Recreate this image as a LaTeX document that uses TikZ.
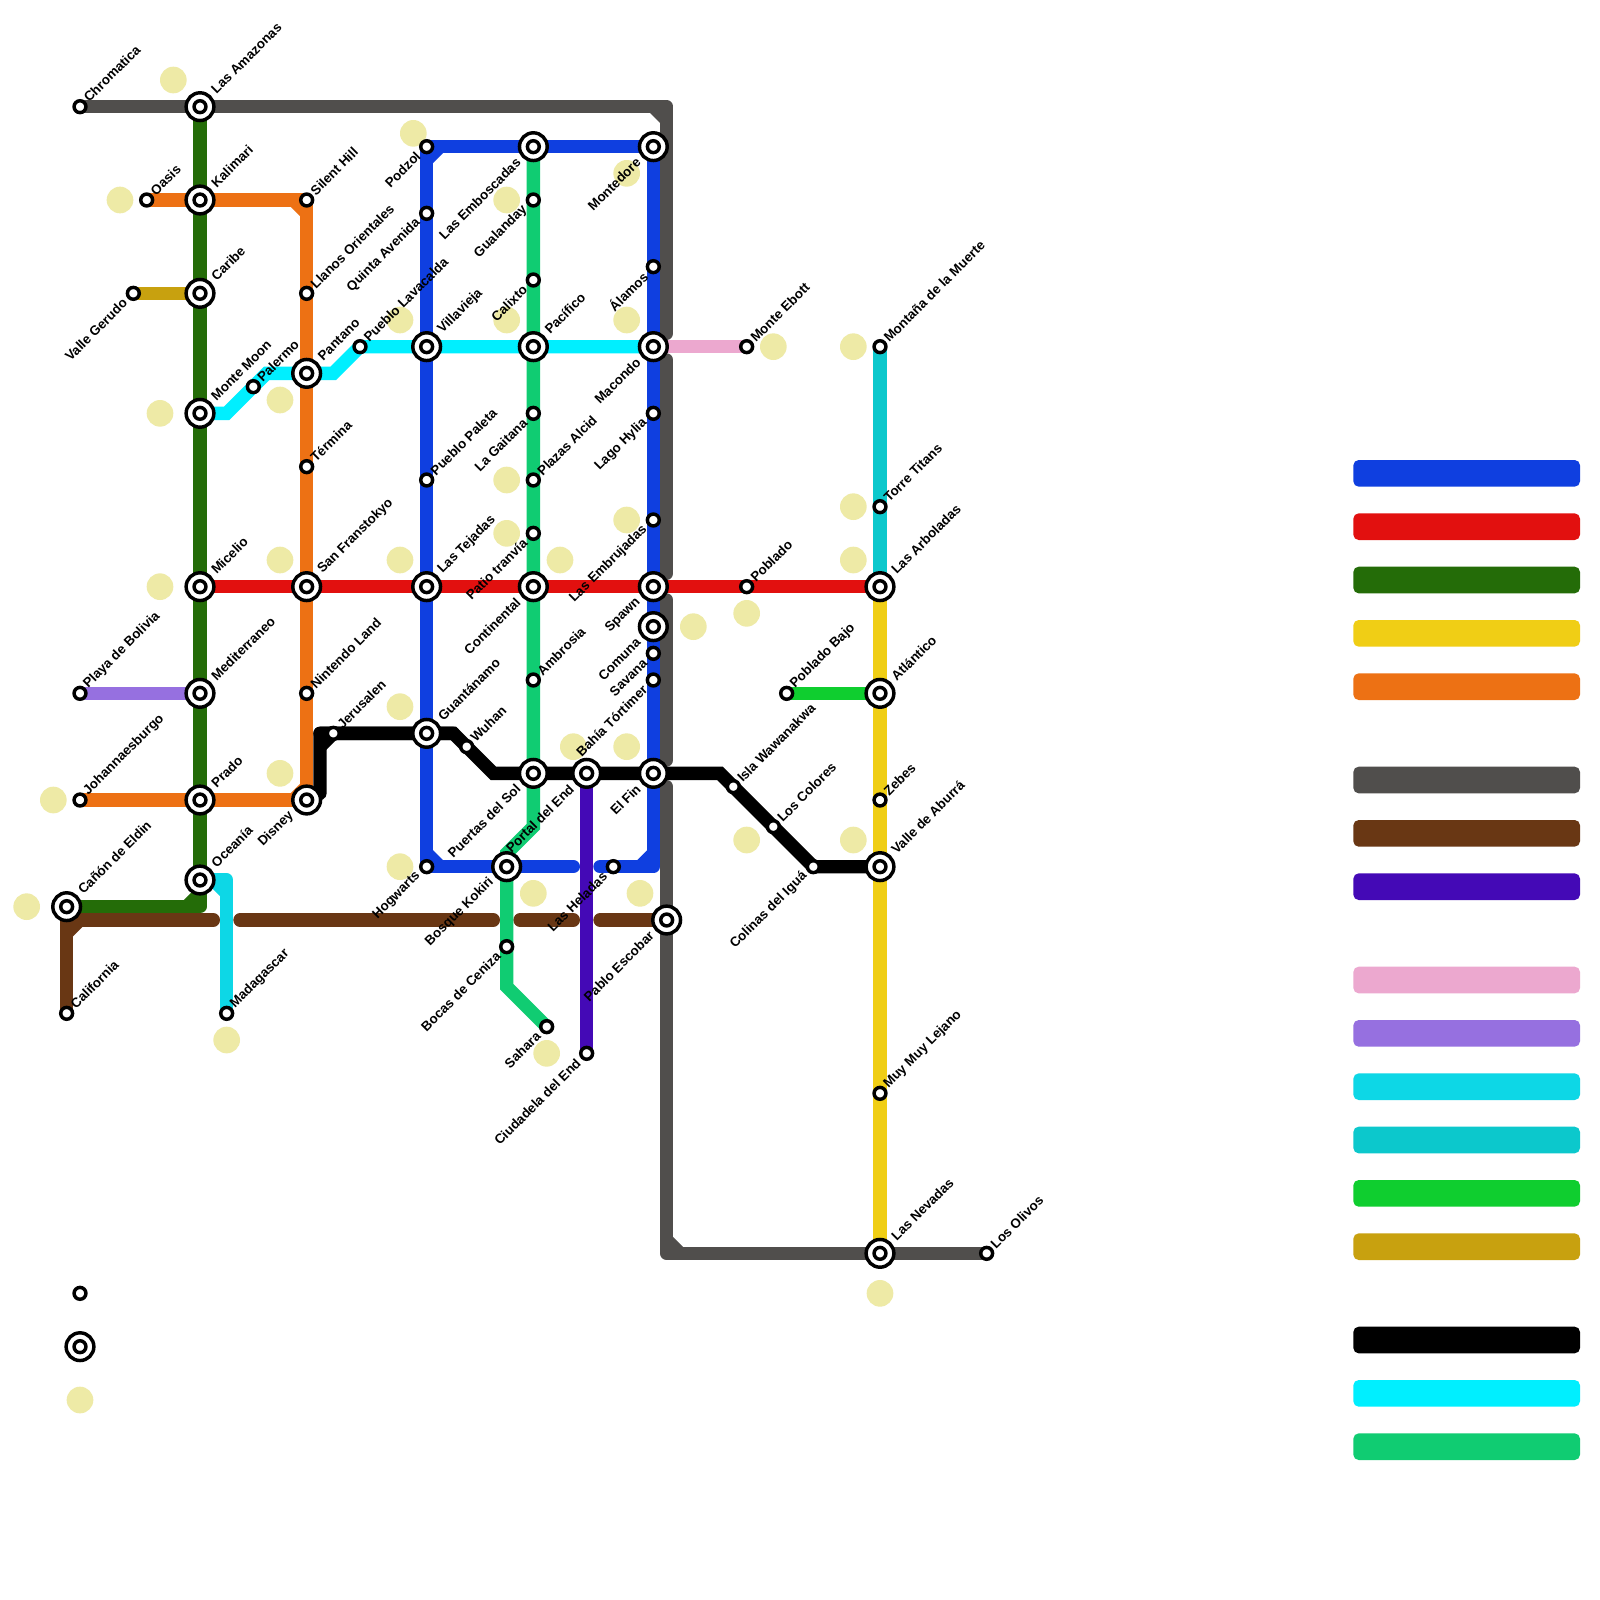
\documentclass[tikz,border=0pt]{standalone}
\usepackage{fontspec}
\setmainfont{Liberation Sans}
\usetikzlibrary{backgrounds}
\definecolor{cBlue}{HTML}{0F3FE0}
\definecolor{cRed}{HTML}{E2100F}
\definecolor{cDGreen}{HTML}{246C08}
\definecolor{cYellow}{HTML}{F0CE15}
\definecolor{cOrange}{HTML}{ED7114}
\definecolor{cGrey}{HTML}{504E4C}
\definecolor{cBrown}{HTML}{693714}
\definecolor{cIndigo}{HTML}{4409B6}
\definecolor{cPink}{HTML}{ECA8CF}
\definecolor{cPurple}{HTML}{9670E0}
\definecolor{cTurq}{HTML}{0DD7E6}
\definecolor{cTeal}{HTML}{0CC8CC}
\definecolor{cLime}{HTML}{0FCE2F}
\definecolor{cGold}{HTML}{C8A10F}
\definecolor{cCyan}{HTML}{00EFFF}
\definecolor{cEmer}{HTML}{10CC72}
\definecolor{cBeige}{HTML}{EEEAA6}
\tikzset{
  smsta/.style={circle,draw=black,fill=white,line width=2.6pt,minimum size=8.9pt,inner sep=0pt,outer sep=0pt},
  bigsta/.style={circle,draw=black,fill=white,line width=2.6pt,minimum size=20.8pt,inner sep=0pt,outer sep=0pt},
  lblne/.style={font=\fontsize{10pt}{10pt}\selectfont\bfseries,inner sep=0pt,rotate=45,anchor=west,text=black},
  lblsw/.style={font=\fontsize{10pt}{10pt}\selectfont\bfseries,inner sep=0pt,rotate=45,anchor=east,text=black},
  metro/.style={line width=10pt,line cap=round,line join=round},
  sharpmetro/.style={line width=10pt,line cap=round,line join=miter},
  cham/.style={line width=10pt,line cap=butt},
  spot/.style={circle,fill=cBeige,minimum size=20pt,inner sep=0pt,outer sep=0pt},
  legendbar/.style={rectangle,rounded corners=4pt,minimum width=170pt,minimum height=20pt,inner sep=0pt,outer sep=0pt}
}
\newcommand{\Sm}[3]{\node[smsta] (#1) at (#2,#3) {};}
\newcommand{\Bg}[3]{\node[bigsta] (#1) at (#2,#3) {}; \node[smsta] (#1-in) at (#1.center) {};}
\newcommand{\SmNE}[4]{\Sm{#1}{#2}{#3}\node[lblne] (#1-t) at ([shift={(.44,-.52)}]#1.center) {#4};}
\newcommand{\SmSW}[4]{\Sm{#1}{#2}{#3}\node[lblsw] (#1-t) at ([shift={(-.62,.55)}]#1.center) {#4};}
\newcommand{\BgNE}[4]{\Bg{#1}{#2}{#3}\node[lblne] (#1-t) at ([shift={(1.0,-1.12)}]#1.center) {#4};}
\newcommand{\BgSW}[4]{\Bg{#1}{#2}{#3}\node[lblsw] (#1-t) at ([shift={(-1.12,1.0)}]#1.center) {#4};}
\newcommand{\Cham}[6]{\draw[cham,#1] ([shift={(#3,#4)}]#2.center) -- ([shift={(#5,#6)}]#2.center);}
\begin{document}
\begin{tikzpicture}[x=10pt,y=-10pt]
\useasboundingbox (0,0) rectangle (120,120);
% stations, north-east labels
\SmNE{chromatica}{6}{8}{Chromatica}
\SmNE{oasis}{11}{15}{Oasis}
\SmNE{silent}{23}{15}{Silent Hill}
\SmNE{llanos}{23}{22}{Llanos Orientales}
\SmNE{palermo}{19}{29}{Palermo}
\SmNE{lavacalda}{27}{26}{Pueblo Lavacalda}
\SmNE{termina}{23}{35}{Términa}
\SmNE{paleta}{32}{36}{Pueblo Paleta}
\SmNE{nintendo}{23}{52}{Nintendo Land}
\SmNE{jerusalen}{25}{55}{Jerusalen}
\SmNE{wuhan}{35}{56}{Wuhan}
\SmNE{johan}{6}{60}{Johannaesburgo}
\SmNE{bolivia}{6}{52}{Playa de Bolivia}
\SmNE{california}{5}{76}{California}
\SmNE{madagascar}{17}{76}{Madagascar}
\SmNE{ebott}{56}{26}{Monte Ebott}
\SmNE{plazas}{40}{36}{Plazas Alcid}
\SmNE{ambrosia}{40}{51}{Ambrosia}
\SmNE{poblado}{56}{44}{Poblado}
\SmNE{pobladobajo}{59}{52}{Poblado Bajo}
\SmNE{isla}{55}{59}{Isla Wawanakwa}
\SmNE{colores}{58}{62}{Los Colores}
\SmNE{zebes}{66}{60}{Zebes}
\SmNE{titans}{66}{38}{Torre Titans}
\SmNE{muerte}{66}{26}{Montaña de la Muerte}
\SmNE{lejano}{66}{82}{Muy Muy Lejano}
\SmNE{olivos}{74}{94}{Los Olivos}
\BgNE{amazonas}{15}{8}{Las Amazonas}
\BgNE{kalimari}{15}{15}{Kalimari}
\BgNE{caribe}{15}{22}{Caribe}
\BgNE{moon}{15}{31}{Monte Moon}
\BgNE{pantano}{23}{28}{Pantano}
\BgNE{villavieja}{32}{26}{Villavieja}
\BgNE{pacifico}{40}{26}{Pacífico}
\BgNE{micelio}{15}{44}{Micelio}
\BgNE{franstokyo}{23}{44}{San Franstokyo}
\BgNE{tejadas}{32}{44}{Las Tejadas}
\BgNE{mediterraneo}{15}{52}{Mediterraneo}
\BgNE{guantanamo}{32}{55}{Guantánamo}
\BgNE{prado}{15}{60}{Prado}
\BgNE{oceania}{15}{66}{Oceanía}
\BgNE{eldin}{5}{68}{Cañón de Eldin}
\BgNE{arboladas}{66}{44}{Las Arboladas}
\BgNE{atlantico}{66}{52}{Atlántico}
\BgNE{aburra}{66}{65}{Valle de Aburrá}
\BgNE{nevadas}{66}{94}{Las Nevadas}
% stations, south-west labels
\SmSW{gerudo}{10}{22}{Valle Gerudo}
\SmSW{podzol}{32}{11}{Podzol}
\SmSW{quinta}{32}{16}{Quinta Avenida}
\SmSW{gualanday}{40}{15}{Gualanday}
\SmSW{calixto}{40}{21}{Calixto}
\SmSW{gaitana}{40}{31}{La Gaitana}
\SmSW{patio}{40}{40}{Patio tranvía}
\SmSW{alamos}{49}{20}{Álamos}
\SmSW{hylia}{49}{31}{Lago Hylia}
\SmSW{embrujadas}{49}{39}{Las Embrujadas}
\SmSW{savana}{49}{49}{Savana}
\SmSW{tortimer}{49}{51}{Bahía Tórtimer}
\SmSW{hogwarts}{32}{65}{Hogwarts}
\SmSW{ceniza}{38}{71}{Bocas de Ceniza}
\SmSW{sahara}{41}{77}{Sahara}
\SmSW{ciudadela}{44}{79}{Ciudadela del End}
\SmSW{heladas}{46}{65}{Las Heladas}
\SmSW{colinas}{61}{65}{Colinas del Iguá}
\BgSW{emboscadas}{40}{11}{Las Emboscadas}
\BgSW{montedore}{49}{11}{Montedore}
\BgSW{macondo}{49}{26}{Macondo}
\BgSW{continental}{40}{44}{Continental}
\BgSW{spawn}{49}{44}{Spawn}
\BgSW{comuna}{49}{47}{Comuna}
\BgSW{elfin}{49}{58}{El Fin}
\BgSW{puertas}{40}{58}{Puertas del Sol}
\BgSW{portal}{44}{58}{Portal del End}
\BgSW{disney}{23}{60}{Disney}
\BgSW{kokiri}{38}{65}{Bosque Kokiri}
\BgSW{escobar}{50}{69}{Pablo Escobar}
% key stations
\Sm{keysmall}{6}{97}
\Bg{keybig}{6}{101}
% bend and free-end points
\coordinate (gA) at (50,8);
\coordinate (gB) at (50,25);
\coordinate (gC) at (50,27);
\coordinate (gD) at (50,43);
\coordinate (gE) at (50,45);
\coordinate (gF) at (50,57);
\coordinate (gG) at (50,59);
\coordinate (gH) at (50,94);
\coordinate (bA) at (43,65);
\coordinate (bB) at (45,65);
\coordinate (bC) at (49,65);
\coordinate (gnA) at (15,68);
\coordinate (cA) at (17,31);
\coordinate (cB) at (20,28);
\coordinate (cC) at (25,28);
\coordinate (tA) at (17,66);
\coordinate (brA) at (5,69);
\coordinate (brB) at (16,69);
\coordinate (brC) at (18,69);
\coordinate (brD) at (37,69);
\coordinate (brE) at (39,69);
\coordinate (brF) at (43,69);
\coordinate (brG) at (45,69);
\coordinate (eA) at (40,62);
\coordinate (eB) at (38,64);
\coordinate (eC) at (38,74);
\coordinate (kA) at (24,59.5);
\coordinate (kB) at (24,55);
\coordinate (kC) at (34,55);
\coordinate (kD) at (37,58);
\coordinate (kE) at (54,58);
\begin{pgfonlayer}{background}
\fill[white] (0,0) rectangle (120,120);
% beige spots
\foreach \n/\x/\y in {s1/13/6,s2/9/15,s3/31/10,s4/30/24,s5/21/30,s6/12/31,s7/12/44,s8/21/42,s9/30/42,s10/30/53,s11/21/58,s12/4/60,s13/30/65,s14/2/68,s15/17/78,s16/38/15,s17/47/13,s18/38/24,s19/47/24,s20/58/26,s21/38/36,s22/38/40,s23/47/39,s24/42/42,s25/52/47,s26/56/46,s27/43/56,s28/47/56,s29/56/63,s30/40/67,s31/48/67,s32/41/79,s33/64/26,s34/64/38,s35/64/42,s36/64/63,s37/66/97,s38/6/105}
  {\node[spot] (\n) at (\x,\y) {};}
% grey
\draw[metro,cGrey] (chromatica.center) -- (amazonas.center) -- (gA) -- (gB);
\Cham{cGrey}{gA}{-1}{0}{0}{1}
\draw[metro,cGrey] (gC) -- (gD);
\draw[metro,cGrey] (gE) -- (gF);
\draw[metro,cGrey] (gG) -- (escobar.center) -- (gH) -- (nevadas.center) -- (olivos.center);
\Cham{cGrey}{gH}{0}{-1}{1}{0}
% brown
\draw[metro,cBrown] (california.center) -- (eldin.center);
\draw[metro,cBrown] (brA) -- (brB);
\Cham{cBrown}{brA}{0}{1}{1}{0}
\draw[metro,cBrown] (brC) -- (brD);
\draw[metro,cBrown] (brE) -- (brF);
\draw[metro,cBrown] (brG) -- (escobar.center);
% turquoise
\draw[metro,cTurq] (oceania.center) -- (tA) -- (madagascar.center);
\Cham{cTurq}{tA}{-1}{0}{0}{1}
% dark green
\draw[metro,cDGreen] (amazonas.center) -- (oceania.center) -- (gnA) -- (eldin.center);
\Cham{cDGreen}{gnA}{-1}{0}{0}{-1}
% orange
\draw[metro,cOrange] (oasis.center) -- (silent.center) -- (disney.center) -- (johan.center);
\Cham{cOrange}{silent}{-1}{0}{0}{1}
\Cham{cOrange}{disney}{-1}{0}{0}{-1}
% emerald
\draw[sharpmetro,cEmer] (emboscadas.center) -- (eA) -- (eB) -- (eC) -- (sahara.center);
% blue
\draw[metro,cBlue] (podzol.center) -- (montedore.center);
\draw[metro,cBlue] (podzol.center) -- (hogwarts.center) -- (bA);
\Cham{cBlue}{podzol}{0}{1}{1}{0}
\Cham{cBlue}{hogwarts}{0}{-1}{1}{0}
\draw[metro,cBlue] (bB) -- (bC) -- (montedore.center);
\Cham{cBlue}{bC}{-1}{0}{0}{-1}
% small branches
\draw[metro,cGold] (gerudo.center) -- (caribe.center);
\draw[metro,cPurple] (bolivia.center) -- (mediterraneo.center);
\draw[metro,cPink] (macondo.center) -- (ebott.center);
\draw[metro,cLime] (pobladobajo.center) -- (atlantico.center);
\draw[metro,cTeal] (muerte.center) -- (arboladas.center);
\draw[metro,cYellow] (arboladas.center) -- (nevadas.center);
\draw[metro,cRed] (micelio.center) -- (arboladas.center);
\draw[metro,cIndigo] (portal.center) -- (ciudadela.center);
% cyan
\draw[sharpmetro,cCyan] (moon.center) -- (cA) -- (cB) -- (cC) -- (lavacalda.center) -- (macondo.center);
% black
\draw[metro,black] (disney.center) -- (kA) -- (kB) -- (kC);
\Cham{black}{kB}{0}{1}{1}{0}
\draw[sharpmetro,black] (kB) -- (kC) -- (kD) -- (kE) -- (colinas.center) -- (aburra.center);
\end{pgfonlayer}
% legend
\foreach \n/\y/\c in {l1/35.5/cBlue,l2/39.5/cRed,l3/43.5/cDGreen,l4/47.5/cYellow,l5/51.5/cOrange,l6/58.5/cGrey,l7/62.5/cBrown,l8/66.5/cIndigo,l9/73.5/cPink,l10/77.5/cPurple,l11/81.5/cTurq,l12/85.5/cTeal,l13/89.5/cLime,l14/93.5/cGold,l15/100.5/black,l16/104.5/cCyan,l17/108.5/cEmer}
  {\node[legendbar,fill=\c] (\n) at (110,\y) {};}
\end{tikzpicture}
\end{document}
